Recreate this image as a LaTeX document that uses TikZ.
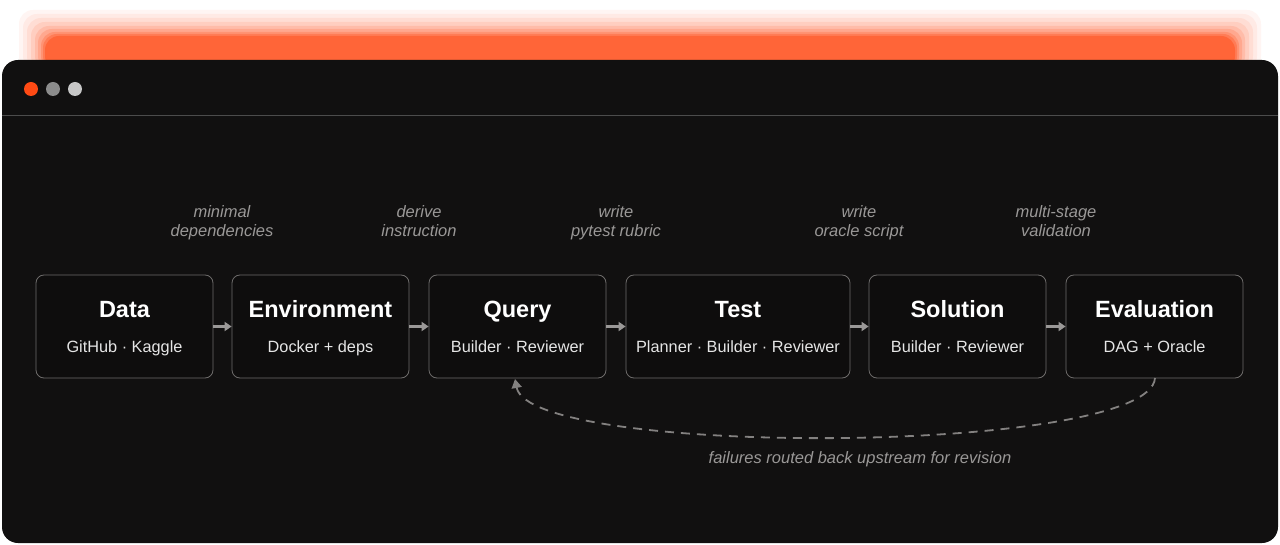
\documentclass[tikz,border=0pt]{standalone}
\usepackage{fontspec}
\setmainfont{Liberation Sans}
\usetikzlibrary{arrows.meta}
\definecolor{win}{HTML}{111010}
\definecolor{boxc}{HTML}{0E0D0D}
\definecolor{edge}{HTML}{6E6C6B}
\definecolor{glow}{HTML}{FF4A14}
\definecolor{lab}{HTML}{9A9897}
\newcommand{\sr}{\rule[-4.5pt]{0pt}{17pt}}
\begin{document}
\begin{tikzpicture}[x=1pt,y=-1pt,
  stage/.style={draw=edge,line width=0.8pt,fill=boxc,rounded corners=8pt,minimum height=103pt,inner sep=0pt},
  ttl/.style={text=white,anchor=base,inner sep=0pt,font=\fontsize{23.5}{25}\selectfont\bfseries},
  sub/.style={text=white!90!black,anchor=base,inner sep=0pt,font=\fontsize{16.3}{18}\selectfont},
  lbl/.style={text=lab,inner sep=0pt,font=\fontsize{16.5}{19.5}\selectfont\itshape,align=center},
  flow/.style={draw=lab,line width=2.2pt,-{Triangle[length=7pt,width=9pt]}}]
\useasboundingbox (0,0) rectangle (1280,545);
\fill[white] (0,0) rectangle (1280,545);
% glow
\foreach \i/\o in {26/0.05,22/0.06,18/0.08,14/0.1,10/0.13,7/0.17,4/0.22,2/0.3,0/0.45}{
  \fill[glow,opacity=\o,rounded corners=14pt] (45-\i,36-\i) rectangle (1235+\i,70);}
% window
\fill[win,rounded corners=16pt] (2,60) rectangle (1278,543);
\draw[white!25!win,line width=0.8pt] (2,115) -- (1278,115);
\fill[glow] (31,89) circle (7);
\fill[white!55!black] (53,89) circle (7);
\fill[white!78!black] (75,89) circle (7);
% stages
\node[stage,minimum width=177pt] (d) at (124.5,326.5) {};
\node[stage,minimum width=177pt] (e) at (320.5,326.5) {};
\node[stage,minimum width=177pt] (q) at (517.5,326.5) {};
\node[stage,minimum width=224pt] (t) at (738,326.5) {};
\node[stage,minimum width=177pt] (s) at (957.5,326.5) {};
\node[stage,minimum width=177pt] (v) at (1154.5,326.5) {};
\foreach \n/\a/\b in {d/Data/GitHub · Kaggle,e/Environment/Docker + deps,q/Query/Builder · Reviewer,t/Test/Planner · Builder · Reviewer,s/Solution/Builder · Reviewer,v/Evaluation/DAG + Oracle}{
  \node[ttl] (\n t) at ([yshift=9pt]\n.center) {\a};
  \node[sub] (\n s) at ([yshift=-26pt]\n.center) {\b};}
\draw[flow] (d) -- (e);
\draw[flow] (e) -- (q);
\draw[flow] (q) -- (t);
\draw[flow] (t) -- (s);
\draw[flow] (s) -- (v);
\node[lbl] (l1) at (222,223) {minimal\sr\\dependencies\sr};
\node[lbl] (l2) at (419,223) {derive\sr\\instruction\sr};
\node[lbl] (l3) at (616,223) {write\sr\\pytest rubric\sr};
\node[lbl] (l4) at (859,223) {write\sr\\oracle script\sr};
\node[lbl] (l5) at (1056,223) {multi-stage\sr\\validation\sr};
\coordinate (vb) at (1155,378);
\coordinate (qb) at (515,379);
\draw[lab!85!black,line width=1.8pt,dash pattern=on 9pt off 7pt,-{Triangle[length=9pt,width=10pt]}]
  (vb) .. controls (1150,455) and (530,458) .. (qb);
\node[lbl] (fb) at (860,459) {failures routed back upstream for revision};
\end{tikzpicture}
\end{document}
